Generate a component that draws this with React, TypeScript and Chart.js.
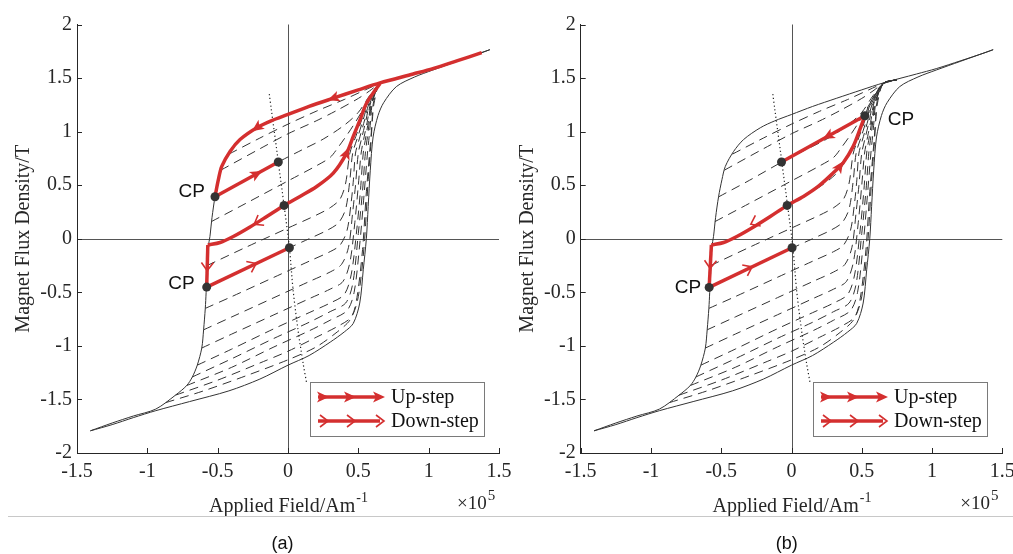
import React, { useEffect, useRef } from 'react';
import { Chart, registerables } from 'chart.js';
Chart.register(...registerables);

type P = [number, number];
type Arrow = [number, number, number, number];

// ---- tick values / labels ----
const xTicks = [-1.5, -1, -0.5, 0, 0.5, 1, 1.5];
const xTickLabels = ['-1.5', '-1', '-0.5', '0', '0.5', '1', '1.5'];
const yTicks = [-2, -1.5, -1, -0.5, 0, 0.5, 1, 1.5, 2];
const yTickLabels = ['-2', '-1.5', '-1', '-0.5', '0', '0.5', '1', '1.5', '2'];

// ---- major hysteresis loop (H in 1e5 A/m, B in T) ----
const majorDescending: P[] = [
  [1.435, 1.765], [1.377, 1.737], [1.2, 1.66], [1.03, 1.588], [0.89, 1.538], [0.654, 1.455],
  [0.5, 1.39], [0.322, 1.312], [0.15, 1.235], [0, 1.16], [-0.12, 1.1], [-0.222, 1.036],
  [-0.341, 0.926], [-0.412, 0.815], [-0.471, 0.675], [-0.495, 0.551], [-0.519, 0.392],
  [-0.54, 0.2], [-0.555, 0.02], [-0.566, -0.07], [-0.575, -0.3], [-0.582, -0.5], [-0.588, -0.65],
  [-0.6, -0.85], [-0.613, -1.02], [-0.645, -1.18], [-0.68, -1.29], [-0.72, -1.37], [-0.8, -1.46],
  [-0.94, -1.59], [-1.1, -1.655], [-1.25, -1.72], [-1.405, -1.793],
];
const majorAscending: P[] = [
  [-1.405, -1.793], [-1.25, -1.735], [-1.1, -1.67], [-0.94, -1.605], [-0.7, -1.52], [-0.42, -1.42],
  [-0.2, -1.31], [0, -1.18], [0.15, -1.09], [0.3, -0.965], [0.4, -0.87], [0.464, -0.79],
  [0.51, -0.6], [0.535, -0.29], [0.557, 0], [0.57, 0.3], [0.585, 0.64], [0.605, 0.95],
  [0.64, 1.15], [0.68, 1.27], [0.77, 1.42], [0.9, 1.51], [1.03, 1.575], [1.2, 1.655], [1.435, 1.765],
];

// ---- minor (first-order reversal) curves, dashed ----
const forcM153: P[] = [[-0.87, -1.53], [-0.6, -1.42], [-0.3, -1.28], [0, -1.13], [0.2, -1.01], [0.35, -0.87], [0.44, -0.76], [0.49, -0.6], [0.52, -0.35], [0.545, 0], [0.57, 0.55], [0.59, 0.9], [0.6, 1.11], [0.612, 1.267], [0.654, 1.45], [0.75, 1.485]];
const forcM146: P[] = [[-0.8, -1.46], [-0.5, -1.32], [-0.2, -1.16], [0, -1.05], [0.2, -0.92], [0.35, -0.82], [0.45, -0.73], [0.49, -0.55], [0.53, -0.1], [0.555, 0.4], [0.58, 0.8], [0.59, 0.955], [0.598, 1.11], [0.607, 1.267], [0.654, 1.45], [0.75, 1.485]];
const forcM138: P[] = [[-0.72, -1.37], [-0.4, -1.2], [-0.1, -1.01], [0.15, -0.86], [0.3, -0.76], [0.42, -0.67], [0.47, -0.5], [0.51, -0.05], [0.54, 0.4], [0.565, 0.8], [0.577, 0.955], [0.588, 1.11], [0.6, 1.267], [0.654, 1.45], [0.75, 1.485]];
const forcM129: P[] = [[-0.68, -1.29], [-0.4, -1.12], [-0.1, -0.93], [0.15, -0.78], [0.3, -0.68], [0.41, -0.6], [0.46, -0.42], [0.5, 0.05], [0.53, 0.45], [0.55, 0.8], [0.565, 0.955], [0.58, 1.11], [0.596, 1.267], [0.654, 1.45], [0.75, 1.485]];
const forcM118: P[] = [[-0.645, -1.18], [-0.4, -1.03], [-0.1, -0.84], [0.15, -0.69], [0.3, -0.6], [0.4, -0.52], [0.45, -0.33], [0.49, 0.1], [0.515, 0.45], [0.535, 0.8], [0.554, 0.955], [0.573, 1.11], [0.592, 1.267], [0.654, 1.45], [0.75, 1.485]];
const forcM102: P[] = [[-0.613, -1.02], [-0.4, -0.89], [-0.1, -0.71], [0.15, -0.56], [0.3, -0.47], [0.39, -0.4], [0.44, -0.22], [0.475, 0.15], [0.5, 0.5], [0.52, 0.8], [0.542, 0.955], [0.566, 1.11], [0.587, 1.267], [0.654, 1.45], [0.75, 1.485]];
const forcM085: P[] = [[-0.6, -0.85], [-0.4, -0.73], [-0.1, -0.55], [0.15, -0.4], [0.3, -0.31], [0.38, -0.24], [0.43, -0.08], [0.46, 0.25], [0.48, 0.5], [0.5, 0.8], [0.527, 0.955], [0.555, 1.11], [0.582, 1.267], [0.654, 1.45], [0.75, 1.485]];
const forcM065: P[] = [[-0.588, -0.65], [-0.4, -0.54], [-0.1, -0.36], [0.15, -0.21], [0.3, -0.12], [0.37, -0.06], [0.42, 0.08], [0.45, 0.35], [0.465, 0.55], [0.48, 0.8], [0.512, 0.955], [0.545, 1.11], [0.577, 1.267], [0.654, 1.45], [0.75, 1.485]];
const forcM045: P[] = [[-0.582, -0.45], [-0.3, -0.28], [0.01, -0.084], [0.15, 0], [0.28, 0.08], [0.36, 0.15], [0.41, 0.28], [0.44, 0.55], [0.46, 0.8], [0.497, 0.955], [0.534, 1.11], [0.571, 1.267], [0.654, 1.45], [0.75, 1.485]];
const forcM025: P[] = [[-0.575, -0.25], [-0.3, -0.08], [0, 0.1], [0.2, 0.22], [0.3, 0.29], [0.37, 0.37], [0.41, 0.52], [0.44, 0.8], [0.482, 0.955], [0.524, 1.11], [0.565, 1.267], [0.654, 1.45], [0.75, 1.485]];
const forcM007: P[] = [[-0.57, -0.058], [-0.483, -0.035], [-0.389, 0.021], [-0.27, 0.11], [-0.151, 0.208], [-0.028, 0.311], [0.085, 0.395], [0.204, 0.488], [0.322, 0.613], [0.417, 0.8], [0.464, 0.955], [0.512, 1.11], [0.559, 1.267], [0.654, 1.45], [0.75, 1.485]];
const forcP016: P[] = [[-0.545, 0.16], [-0.3, 0.33], [0, 0.54], [0.2, 0.68], [0.3, 0.76], [0.36, 0.86], [0.42, 0.97], [0.48, 1.09], [0.53, 1.2], [0.58, 1.31], [0.654, 1.45], [0.75, 1.485]];
const forcP039: P[] = [[-0.52, 0.39], [-0.3, 0.545], [-0.069, 0.716], [0.1, 0.83], [0.25, 0.93], [0.4, 1.06], [0.5, 1.18], [0.58, 1.335], [0.654, 1.45], [0.75, 1.485]];
const forcP064: P[] = [[-0.478, 0.64], [-0.2, 0.84], [0, 0.98], [0.2, 1.1], [0.35, 1.2], [0.5, 1.31], [0.58, 1.38], [0.654, 1.45], [0.75, 1.485]];
const forcP079: P[] = [[-0.42, 0.79], [-0.2, 0.94], [0, 1.07], [0.2, 1.19], [0.4, 1.3], [0.55, 1.39], [0.654, 1.45], [0.75, 1.485]];
const minorCurves: P[][] = [forcM153, forcM146, forcM138, forcM129, forcM118, forcM102, forcM085, forcM065, forcM045, forcM025, forcM007, forcP016, forcP039, forcP064, forcP079];

// ---- dotted line ----
const dottedLine: P[] = [[-0.133, 1.35], [-0.118, 1.2], [-0.077, 0.8], [-0.069, 0.716], [-0.028, 0.311], [0.01, -0.084], [0.036, -0.476], [0.071, -0.85], [0.107, -1.16], [0.133, -1.35]];

// ---- panel (a) red paths ----
const redA1: P[] = [[-0.57, -0.058], [-0.483, -0.035], [-0.389, 0.021], [-0.27, 0.11], [-0.151, 0.208], [-0.028, 0.311], [0.085, 0.395], [0.204, 0.488], [0.322, 0.613], [0.417, 0.8], [0.464, 0.955], [0.512, 1.11], [0.559, 1.267], [0.654, 1.45]];
const redA2: P[] = [[1.377, 1.737], [1.2, 1.66], [1.03, 1.588], [0.89, 1.538], [0.654, 1.455], [0.5, 1.39], [0.322, 1.312], [0.15, 1.235], [0, 1.16], [-0.12, 1.1], [-0.222, 1.036], [-0.341, 0.926], [-0.412, 0.815], [-0.471, 0.675], [-0.495, 0.551], [-0.519, 0.392]];
const redA3: P[] = [[-0.57, -0.058], [-0.578, -0.451]];
const redA4: P[] = [[-0.519, 0.392], [-0.069, 0.716]];
const redA5: P[] = [[-0.578, -0.451], [0.01, -0.084]];
const dotsA: P[] = [[-0.519, 0.392], [-0.578, -0.451], [-0.069, 0.716], [-0.028, 0.311], [0.01, -0.084]];
const upArrowsA: Arrow[] = [[0.322, 1.312, 0, 1.16], [-0.222, 1.036, -0.341, 0.926], [0.417, 0.8, 0.464, 0.955], [-0.222, 0.606, -0.069, 0.716]];
const downArrowsA: Arrow[] = [[-0.222, 0.15, -0.389, 0.021], [-0.574, -0.27, -0.578, -0.451], [-0.246, -0.243, 0.01, -0.084]];

// ---- panel (b) red paths ----
const redB1: P[] = [[-0.57, -0.058], [-0.483, -0.035], [-0.389, 0.021], [-0.27, 0.11], [-0.151, 0.208], [-0.031, 0.311], [0.085, 0.395], [0.19, 0.488], [0.296, 0.613], [0.367, 0.707], [0.439, 0.862], [0.486, 1.018], [0.522, 1.148]];
const redB2: P[] = [[-0.57, -0.058], [-0.586, -0.454]];
const redB3: P[] = [[-0.586, -0.454], [0.004, -0.084]];
const redB4: P[] = [[0.522, 1.148], [-0.071, 0.716]];
const dotsB: P[] = [[0.522, 1.148], [-0.586, -0.454], [-0.071, 0.716], [-0.031, 0.311], [0.004, -0.084]];
const upArrowsB: Arrow[] = [[0.26, 0.958, -0.071, 0.716], [0.344, 0.677, 0.439, 0.862]];
const downArrowsB: Arrow[] = [[-0.27, 0.148, -0.416, 0.053], [-0.578, -0.25, -0.586, -0.454], [-0.3, -0.275, 0.004, -0.084]];

const cpLabel = 'CP';
const legendLabels = ['Up-step', 'Down-step'];
const yTitle = 'Magnet Flux Density/T';
const xTitle = 'Applied Field/Am';
const xTitleSup = '-1';

const RED = '#d42f2f';
const INK = '#262626';
const SERIF = 'Liberation Serif';
const SANS = 'Liberation Sans';

interface CPText { p: P; align: 'left' | 'right'; dx: number; dy: number }
interface Panel {
  yAxisWidth: number;
  padRight: number;
  curved: P[][];
  straight: P[][];
  dots: P[];
  cps: CPText[];
  up: Arrow[];
  down: Arrow[];
}

const panelA: Panel = {
  yAxisWidth: 77, padRight: 21,
  curved: [redA1, redA2], straight: [redA3, redA4, redA5], dots: dotsA,
  cps: [
    { p: dotsA[0], align: 'right', dx: -10, dy: -5 },
    { p: dotsA[1], align: 'right', dx: -12, dy: -3 },
  ],
  up: upArrowsA, down: downArrowsA,
};
const panelB: Panel = {
  yAxisWidth: 80.7, padRight: 10.7,
  curved: [redB1], straight: [redB2, redB3, redB4], dots: dotsB,
  cps: [
    { p: dotsB[0], align: 'left', dx: 23, dy: 4 },
    { p: dotsB[1], align: 'right', dx: -8, dy: 0 },
  ],
  up: upArrowsB, down: downArrowsB,
};

function toXY(pts: P[]) { return pts.map(([x, y]) => ({ x, y })); }

function lineDs(pts: P[], color: string, width: number, dash: number[], tension: number, order: number) {
  return {
    data: toXY(pts), showLine: true, borderColor: color, backgroundColor: color,
    borderWidth: width, borderDash: dash, pointRadius: 0, pointHoverRadius: 0, pointHitRadius: 0,
    tension, order, fill: false, borderCapStyle: 'butt', borderJoinStyle: 'round',
  };
}

function drawUp(ctx: CanvasRenderingContext2D, x: number, y: number, ang: number) {
  ctx.save(); ctx.translate(x, y); ctx.rotate(ang);
  ctx.beginPath(); ctx.moveTo(6, 0); ctx.lineTo(-6, -5.5); ctx.lineTo(-3, 0); ctx.lineTo(-6, 5.5); ctx.closePath();
  ctx.fillStyle = RED; ctx.fill(); ctx.restore();
}
function drawDown(ctx: CanvasRenderingContext2D, x: number, y: number, ang: number) {
  ctx.save(); ctx.translate(x, y); ctx.rotate(ang);
  ctx.beginPath(); ctx.moveTo(-5, -6); ctx.lineTo(3, 0); ctx.lineTo(-5, 6);
  ctx.strokeStyle = RED; ctx.lineWidth = 1.6; ctx.stroke(); ctx.restore();
}

function decor(panel: Panel) {
  return {
    id: 'decor',
    beforeDatasetsDraw(chart: any) {
      const { ctx, chartArea: a, scales: { x, y } } = chart;
      ctx.save();
      ctx.strokeStyle = '#555'; ctx.lineWidth = 1;
      const x0 = Math.round(x.getPixelForValue(0)) + 0.5;
      const y0 = Math.round(y.getPixelForValue(0)) + 0.5;
      ctx.beginPath();
      ctx.moveTo(x0, a.top); ctx.lineTo(x0, a.bottom);
      ctx.moveTo(a.left, y0); ctx.lineTo(a.right, y0);
      ctx.stroke();
      ctx.restore();
    },
    afterDatasetsDraw(chart: any) {
      const { ctx, scales: { x, y } } = chart;
      const ang = (r: Arrow) => Math.atan2(y.getPixelForValue(r[3]) - y.getPixelForValue(r[1]), x.getPixelForValue(r[2]) - x.getPixelForValue(r[0]));
      panel.up.forEach((r) => drawUp(ctx, x.getPixelForValue(r[0]), y.getPixelForValue(r[1]), ang(r)));
      panel.down.forEach((r) => drawDown(ctx, x.getPixelForValue(r[0]), y.getPixelForValue(r[1]), ang(r)));
    },
    afterDraw(chart: any) {
      const { ctx, chartArea: a, scales: { x, y } } = chart;
      ctx.save();
      // inward tick marks
      ctx.strokeStyle = INK; ctx.lineWidth = 1;
      ctx.beginPath();
      xTicks.forEach((v) => { const px = Math.round(x.getPixelForValue(v)) + 0.5; ctx.moveTo(px, a.bottom); ctx.lineTo(px, a.bottom - 5); });
      yTicks.forEach((v) => { const py = Math.round(y.getPixelForValue(v)) + 0.5; ctx.moveTo(a.left, py); ctx.lineTo(a.left + 5, py); });
      ctx.stroke();

      // CP labels
      ctx.fillStyle = '#111'; ctx.font = `19px "${SANS}"`; ctx.textBaseline = 'middle';
      panel.cps.forEach((c) => {
        ctx.textAlign = c.align;
        ctx.fillText(cpLabel, x.getPixelForValue(c.p[0]) + c.dx, y.getPixelForValue(c.p[1]) + c.dy);
      });

      // legend
      const lx = Math.round(a.right - 189), ly = Math.round(a.bottom - 71), lw = 174, lh = 54;
      ctx.fillStyle = '#fff'; ctx.fillRect(lx, ly, lw, lh);
      ctx.strokeStyle = '#7a7a7a'; ctx.lineWidth = 1; ctx.strokeRect(lx + 0.5, ly + 0.5, lw, lh);
      const rows = [ly + 15, ly + 39];
      rows.forEach((ry, i) => {
        ctx.strokeStyle = RED; ctx.lineWidth = 3.5;
        ctx.beginPath(); ctx.moveTo(lx + 8, ry); ctx.lineTo(lx + 70, ry); ctx.stroke();
        [lx + 13, lx + 40, lx + 69].forEach((ax) => (i === 0 ? drawUp(ctx, ax, ry, 0) : drawDown(ctx, ax + 2, ry, 0)));
        ctx.fillStyle = '#111'; ctx.font = `20px "${SERIF}"`; ctx.textAlign = 'left'; ctx.textBaseline = 'middle';
        ctx.fillText(legendLabels[i], lx + 81, ry + 1);
      });

      // y title
      ctx.save();
      ctx.translate(a.left - 53, (a.top + a.bottom) / 2);
      ctx.rotate(-Math.PI / 2);
      ctx.fillStyle = INK; ctx.font = `20px "${SERIF}"`; ctx.textAlign = 'center'; ctx.textBaseline = 'middle';
      ctx.fillText(yTitle, 0, 0);
      ctx.restore();

      // x title with superscript
      ctx.fillStyle = INK; ctx.textBaseline = 'alphabetic'; ctx.textAlign = 'left';
      ctx.font = `20px "${SERIF}"`;
      const w1 = ctx.measureText(xTitle).width;
      ctx.font = `14px "${SERIF}"`;
      const w2 = ctx.measureText(xTitleSup).width;
      const sx = (a.left + a.right) / 2 - (w1 + w2) / 2;
      ctx.font = `20px "${SERIF}"`; ctx.fillText(xTitle, sx, 512);
      ctx.font = `14px "${SERIF}"`; ctx.fillText(xTitleSup, sx + w1 + 1, 502);

      // exponent
      ctx.font = `19px "${SERIF}"`;
      const e1 = '\u00d710';
      ctx.fillText(e1, a.right - 42, 509);
      const we = ctx.measureText(e1).width;
      ctx.font = `15px "${SERIF}"`;
      ctx.fillText('5', a.right - 42 + we + 1, 500);
      ctx.restore();
    },
  };
}

function buildConfig(panel: Panel): any {
  const datasets: any[] = [];
  datasets.push(lineDs(majorDescending, '#333', 1, [], 0.3, 10));
  datasets.push(lineDs(majorAscending, '#333', 1, [], 0.3, 10));
  minorCurves.forEach((c) => datasets.push(lineDs(c, '#333', 1, [9, 6], 0.3, 9)));
  datasets.push(lineDs(dottedLine, '#222', 1.2, [1.2, 2.6], 0.3, 8));
  panel.curved.forEach((c) => datasets.push(lineDs(c, RED, 3.5, [], 0.3, 2)));
  panel.straight.forEach((c) => datasets.push(lineDs(c, RED, 3.5, [], 0, 2)));
  datasets.push({
    data: toXY(panel.dots), showLine: false, pointRadius: 4.5, pointHoverRadius: 4.5,
    pointBackgroundColor: '#333', pointBorderColor: '#333', pointBorderWidth: 0, order: 0,
  });

  const tickFont = { family: SERIF, size: 20, style: 'normal', weight: 'normal', lineHeight: 1.2 };
  return {
    type: 'scatter',
    data: { datasets },
    options: {
      animation: false,
      responsive: false,
      devicePixelRatio: 1,
      events: [],
      layout: { padding: { left: 0, right: panel.padRight, top: 24.5, bottom: 0 } },
      plugins: { legend: { display: false }, tooltip: { enabled: false } },
      scales: {
        x: {
          type: 'linear', min: -1.5, max: 1.5,
          grid: { display: false, drawTicks: false },
          border: { display: true, color: INK, width: 1 },
          afterBuildTicks: (s: any) => { s.ticks = xTicks.map((v) => ({ value: v })); },
          ticks: {
            autoSkip: false, maxRotation: 0, padding: 7, color: INK,
            font: tickFont,
            callback: (_v: any, i: number) => xTickLabels[i],
          },
          afterFit: (s: any) => { s.height = 101; s.paddingLeft = 0; s.paddingRight = 0; },
        },
        y: {
          type: 'linear', min: -2, max: 2,
          grid: { display: false, drawTicks: false },
          border: { display: true, color: INK, width: 1 },
          afterBuildTicks: (s: any) => { s.ticks = yTicks.map((v) => ({ value: v })); },
          ticks: {
            autoSkip: false, padding: 5, color: INK,
            font: tickFont,
            callback: (_v: any, i: number) => yTickLabels[i],
          },
          afterFit: (s: any) => { s.width = panel.yAxisWidth; s.paddingTop = 0; s.paddingBottom = 0; },
        },
      },
    },
    plugins: [decor(panel)],
  };
}

export default function App() {
  const refA = useRef<HTMLCanvasElement>(null);
  const refB = useRef<HTMLCanvasElement>(null);
  useEffect(() => {
    const ca = new Chart(refA.current as HTMLCanvasElement, buildConfig(panelA));
    const cb = new Chart(refB.current as HTMLCanvasElement, buildConfig(panelB));
    return () => { ca.destroy(); cb.destroy(); };
  }, []);
  const cap: React.CSSProperties = {
    position: 'absolute', top: 532, width: 100, textAlign: 'center',
    fontFamily: `"${SANS}"`, fontSize: 18, lineHeight: '22px', color: '#111',
  };
  return (
    <div style={{ position: 'absolute', left: 0, top: 0, width: 1013, height: 554, background: '#fff', overflow: 'hidden' }}>
      <canvas ref={refA} width={520} height={554} style={{ position: 'absolute', left: 0, top: 0, width: 520, height: 554 }} />
      <canvas ref={refB} width={513} height={554} style={{ position: 'absolute', left: 500, top: 0, width: 513, height: 554 }} />
      <div style={{ position: 'absolute', left: 8, top: 516, width: 1005, height: 1, background: '#c8c8c8' }} />
      <div style={{ ...cap, left: 232.5 }}>(a)</div>
      <div style={{ ...cap, left: 736.7 }}>(b)</div>
    </div>
  );
}
